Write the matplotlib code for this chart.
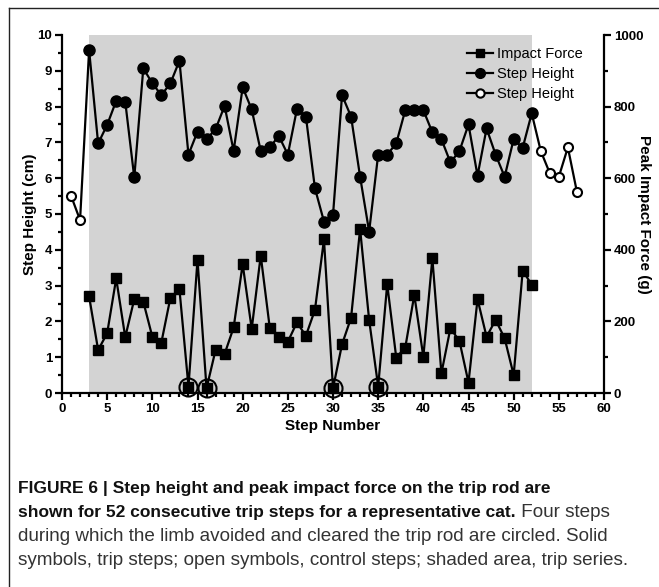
import matplotlib
matplotlib.use('Agg')
import matplotlib.pyplot as plt
from matplotlib.lines import Line2D
from matplotlib.ticker import MultipleLocator

# ---------------- data ----------------
steps_trip = list(range(3, 53))
step_height_trip = [9.58, 6.97, 7.49, 8.16, 8.14, 6.02, 9.07, 8.65, 8.32, 8.65,
                    9.28, 6.66, 7.30, 7.09, 7.37, 8.02, 6.76, 8.54, 7.92, 6.76,
                    6.86, 7.18, 6.66, 7.92, 7.72, 5.72, 4.79, 4.97, 8.32, 7.72,
                    6.04, 4.51, 6.66, 6.66, 6.97, 7.90, 7.90, 7.90, 7.28, 7.09,
                    6.44, 6.76, 7.50, 6.07, 7.39, 6.66, 6.04, 7.09, 6.85, 7.81]
impact_force_trip = [270, 120, 167, 320, 156, 262, 255, 157, 141, 266,
                     290, 18, 372, 13, 120, 109, 183, 360, 179, 384,
                     182, 157, 143, 197, 160, 232, 429, 13, 136, 210,
                     458, 204, 18, 304, 99, 127, 274, 101, 376, 55,
                     181, 145, 29, 262, 157, 204, 153, 50, 342, 302]
steps_control = [1, 2, 53, 54, 55, 56, 57]
step_height_control = [5.51, 4.83, 6.76, 6.14, 6.04, 6.86, 5.62]
circled_steps = [14, 16, 30, 35]
shade_range = (3, 52)

x_ticks_major, x_ticks_minor = 5, 1
y_ticks_major, y_ticks_minor = 1, 0.5
y2_ticks_major, y2_ticks_minor = 200, 100

plt.rcParams['font.family'] = ['Liberation Sans', 'DejaVu Sans']
plt.rcParams['font.weight'] = 'bold'

W, H = 659, 587
fig = plt.figure(figsize=(W / 100, H / 100), dpi=100)
ax = fig.add_axes([62 / W, 1 - 393 / H, 542 / W, 358 / H])
ax2 = ax.twinx()

# shaded trip series
ax.axvspan(shade_range[0], shade_range[1], color='#d3d3d3', lw=0, zorder=0)

# step height: continuous line through all steps
all_steps = sorted(steps_control + steps_trip)
hmap = dict(zip(steps_trip, step_height_trip))
hmap.update(dict(zip(steps_control, step_height_control)))
ax.plot(all_steps, [hmap[s] for s in all_steps], color='black', lw=1.6,
        zorder=2, clip_on=False)
ax.plot(steps_trip, step_height_trip, ls='none', marker='o', ms=8,
        mfc='black', mec='black', zorder=3, clip_on=False)
ax.plot(steps_control, step_height_control, ls='none', marker='o', ms=6.5,
        mfc='white', mec='black', mew=1.5, zorder=3, clip_on=False)

# impact force on right axis
ax2.plot(steps_trip, impact_force_trip, color='black', lw=1.6, marker='s',
         ms=7, mfc='black', mec='black', zorder=3, clip_on=False)
fmap = dict(zip(steps_trip, impact_force_trip))
ax2.plot(circled_steps, [fmap[s] for s in circled_steps], ls='none',
         marker='o', ms=13, mfc='none', mec='black', mew=1.5, zorder=4,
         clip_on=False)

ax.set_xlim(0, 60)
ax.set_ylim(0, 10)
ax2.set_ylim(0, 1000)

ax.xaxis.set_major_locator(MultipleLocator(x_ticks_major))
ax.xaxis.set_minor_locator(MultipleLocator(x_ticks_minor))
ax.yaxis.set_major_locator(MultipleLocator(y_ticks_major))
ax.yaxis.set_minor_locator(MultipleLocator(y_ticks_minor))
ax2.yaxis.set_major_locator(MultipleLocator(y2_ticks_major))
ax2.yaxis.set_minor_locator(MultipleLocator(y2_ticks_minor))

for a in (ax, ax2):
    a.spines['top'].set_visible(False)
    for sp in a.spines.values():
        sp.set_linewidth(1.6)
ax.spines['right'].set_visible(False)
ax2.spines['left'].set_visible(False)
ax2.spines['bottom'].set_visible(False)

for a in (ax, ax2):
    a.tick_params(which='major', direction='out', length=5, width=1.6,
                  labelsize=9.5, pad=2)
    a.tick_params(which='minor', direction='out', length=3, width=1.6)

ax.set_xlabel('Step Number', fontsize=11, fontweight='bold', labelpad=3)
ax.set_ylabel('Step Height (cm)', fontsize=11, fontweight='bold')
ax.yaxis.set_label_coords((37 - 62) / 542, 0.5)
ax2.set_ylabel('Peak Impact Force (g)', fontsize=11, fontweight='bold',
               rotation=270, labelpad=0)
ax2.yaxis.set_label_coords((651 - 62) / 542, 0.5)

# legend
handles = [
    Line2D([], [], color='black', lw=1.6, marker='s', ms=6, mfc='black'),
    Line2D([], [], color='black', lw=1.6, marker='o', ms=7, mfc='black'),
    Line2D([], [], color='black', lw=1.6, marker='o', ms=6, mfc='white',
           mew=1.5),
]
ax2.legend(handles, ['Impact Force', 'Step Height', 'Step Height'],
           loc='upper left', bbox_to_anchor=(467 / W, 1 - 47 / H),
           bbox_transform=fig.transFigure, frameon=False,
           prop={'weight': 'normal', 'size': 10.5}, handlelength=1.75,
           handletextpad=0.3, labelspacing=0.4, borderpad=0,
           borderaxespad=0)

# border
fig.add_artist(Line2D([9 / W, 9 / W], [0, 1 - 8 / H], color='#222222',
                      lw=1, transform=fig.transFigure))
fig.add_artist(Line2D([9 / W, 1], [1 - 8 / H, 1 - 8 / H], color='#222222',
                      lw=1, transform=fig.transFigure))

# caption
cap_fam = ['Liberation Sans', 'DejaVu Sans']
cx = 18 / W
fs_b = 12.5
fs_n = 13.6
fig.text(cx, 1 - 493 / H,
         'FIGURE 6 | Step height and peak impact force on the trip rod are',
         fontsize=fs_b, fontweight='bold', family=cap_fam, va='baseline',
         color='#111111')
t2 = fig.text(cx, 1 - 517 / H,
              'shown for 52 consecutive trip steps for a representative cat.',
              fontsize=fs_b, fontweight='bold', family=cap_fam, va='baseline',
              color='#111111')
fig.canvas.draw()
bb = t2.get_window_extent(renderer=fig.canvas.get_renderer())
fig.text(bb.x1 / fig.bbox.width, 1 - 517 / H, ' Four steps',
         fontsize=fs_n, fontweight='normal', family=cap_fam, va='baseline',
         color='#333333')
fig.text(cx, 1 - 541 / H,
         'during which the limb avoided and cleared the trip rod are circled. Solid',
         fontsize=fs_n, fontweight='normal', family=cap_fam, va='baseline',
         color='#333333')
fig.text(cx, 1 - 565 / H,
         'symbols, trip steps; open symbols, control steps; shaded area, trip series.',
         fontsize=fs_n, fontweight='normal', family=cap_fam, va='baseline',
         color='#333333')

fig.savefig('out.png', dpi=100)
